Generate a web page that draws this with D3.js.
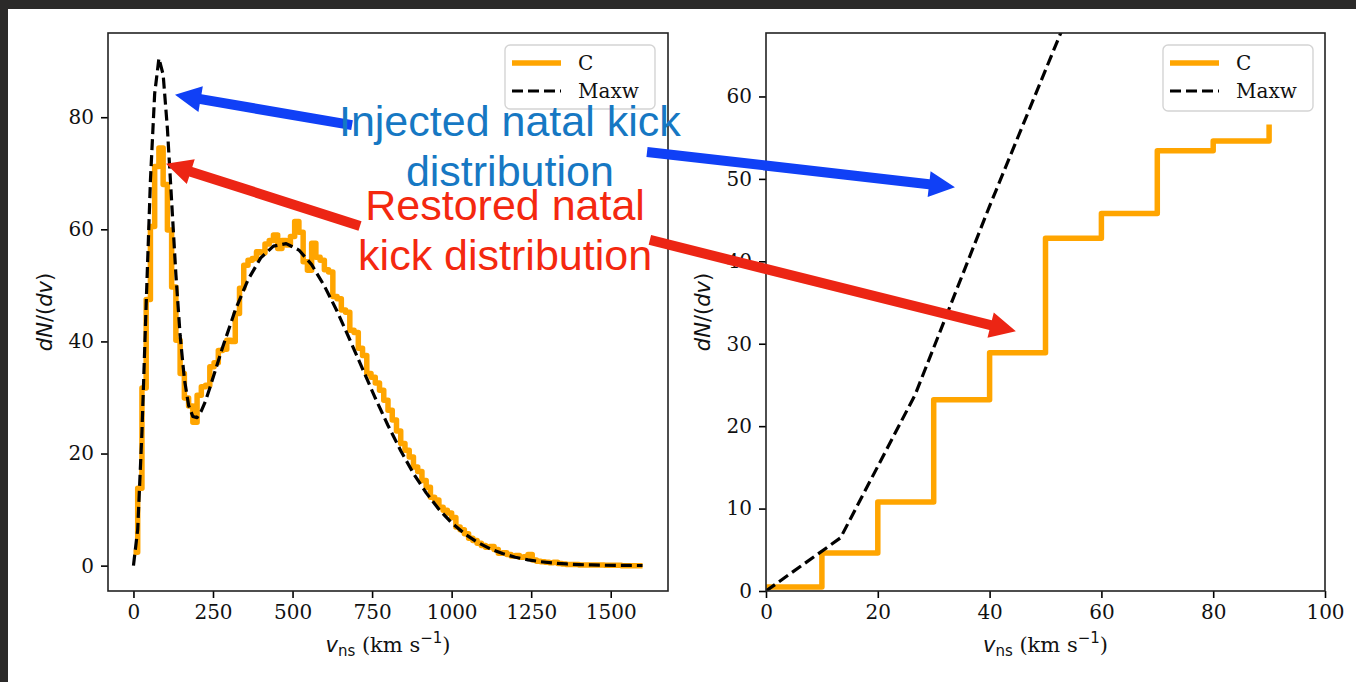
<!DOCTYPE html>
<html>
<head>
<meta charset="utf-8">
<script src="https://cdn.jsdelivr.net/npm/d3@7"></script>
<style>
  html, body { margin: 0; padding: 0; background: #fff; }
  svg { display: block; }
</style>
</head>
<body>
<svg id="fig" width="1356" height="682"></svg>
<script>
// ---------------- data ----------------
// Maxwellian model curve (speed in km/s, dN/dv)
const maxwSpeed = [0, 13.33, 26.67, 40, 53.33, 66.67, 80, 93.33, 106.67, 120, 133.33, 146.67,
  160, 173.33, 186.67, 200, 213.33, 226.67, 240, 280, 320, 360, 400, 440, 480, 520, 560,
  600, 640, 680, 720, 760, 800, 840, 880, 920, 960, 1000, 1040, 1080, 1120, 1160, 1200,
  1240, 1280, 1320, 1360, 1400, 1440, 1480, 1520, 1560, 1600];
const maxwValue = [0, 6.45, 23.8, 46.7, 68.7, 84.2, 90.5, 87.6, 78.0, 65.0, 52.0, 41.1,
  33.3, 28.6, 26.6, 26.4, 27.6, 29.4, 31.7, 38.9, 45.6, 51.0, 54.9, 57.0, 57.45, 56.3, 53.7,
  49.9, 45.4, 40.3, 35.1, 29.9, 25.0, 20.5, 16.45, 12.98, 10.05, 7.65, 5.72, 4.20, 3.03, 2.15, 1.50,
  1.03, 0.70, 0.46, 0.30, 0.19, 0.12, 0.07, 0.04, 0.03, 0.02];

// Restored distribution "C": histogram bin edges and counts (full range)
const binEdges = [0, 13.33, 26.67, 40, 53.33, 66.67, 80, 93.33, 106.67, 120, 133.33, 146.67,
  160, 173.33, 186.67, 200, 213.33, 226.67, 240, 253.33, 266.67, 280, 293.33, 306.67, 320,
  333.33, 346.67, 360, 373.33, 386.67, 400, 413.33, 426.67, 440, 453.33, 466.67, 480, 493.33,
  506.67, 520, 533.33, 546.67, 560, 573.33, 586.67, 600, 613.33, 626.67, 640, 653.33, 666.67,
  680, 693.33, 706.67, 720, 733.33, 746.67, 760, 773.33, 786.67, 800, 813.33, 826.67, 840,
  853.33, 866.67, 880, 893.33, 906.67, 920, 933.33, 946.67, 960, 973.33, 986.67, 1000,
  1013.33, 1026.67, 1040, 1053.33, 1066.67, 1080, 1093.33, 1106.67, 1120, 1133.33, 1146.67,
  1160, 1173.33, 1186.67, 1200, 1213.33, 1226.67, 1240, 1253.33, 1266.67, 1280, 1293.33,
  1306.67, 1320, 1333.33, 1346.67, 1360, 1373.33, 1386.67, 1400, 1413.33, 1426.67, 1440,
  1453.33, 1466.67, 1480, 1493.33, 1506.67, 1520, 1533.33, 1546.67, 1560, 1573.33, 1586.67, 1600];
const binCounts = [2.4, 13.8, 31.7, 47.5, 60.5, 71.2, 74.5, 68.0, 59.9, 49.7,
  40.2, 34.3, 29.9, 28.5, 25.6, 30.4, 31.9, 32.2, 35.5, 36.2,
  38.4, 38.6, 40.2, 40.0, 45.0, 49.5, 53.6, 54.5, 54.8, 56.0,
  55.8, 57.4, 58.0, 59.0, 56.6, 58.0, 57.2, 58.7, 61.4, 59.5,
  54.2, 52.7, 57.5, 55.0, 54.5, 52.8, 52.4, 48.0, 47.6, 45.6,
  45.2, 42.0, 41.6, 38.8, 37.5, 34.3, 33.6, 32.6, 31.3, 29.5,
  27.7, 26.0, 24.0, 21.8, 20.6, 19.4, 17.6, 16.8, 15.2, 14.0,
  12.2, 11.7, 10.4, 9.9, 9.4, 8.6, 6.9, 6.4, 5.7, 4.9,
  4.5, 4.0, 3.6, 3.3, 3.4, 2.9, 2.2, 2.3, 2.0, 1.7,
  1.8, 1.5, 1.6, 2.0, 1.0, 0.8, 0.7, 0.6, 0.5, 0.6,
  0.4, 0.3, 0.2, 0.2, 0.2, 0.1, 0.1, 0.1, 0.1, 0.1,
  0.1, 0.05, 0.05, 0.05, 0.05, 0, 0, 0, 0, 0,
  0];

// Low-speed detail of "C"
const lowEdges = [0, 10, 20, 30, 40, 50, 60, 70, 80, 90];
const lowCounts = [0.5, 4.6, 10.8, 23.2, 28.9, 42.8, 45.8, 53.4, 54.6, 56.6];

// Axis ticks
const leftXTicks = [0, 250, 500, 750, 1000, 1250, 1500];
const leftYTicks = [0, 20, 40, 60, 80];
const rightXTicks = [0, 20, 40, 60, 80, 100];
const rightYTicks = [0, 10, 20, 30, 40, 50, 60];

const legendLabels = ["C", "Maxw"];

// ---------------- setup ----------------
const W = 1356, H = 682;
const ORANGE = "#ffa500";
const HIST_W = 5.5, MAXW_W = 3.2, MAXW_DASH = "11,5";
const svg = d3.select("#fig");

// window frame
svg.append("rect").attr("width", W).attr("height", H).attr("fill", "#2b2a29");
svg.append("rect").attr("x", 8).attr("y", 9).attr("width", W - 8).attr("height", H - 9).attr("fill", "#fff");

const panels = [
  {
    id: "left",
    x: d3.scaleLinear().domain([-80, 1680]).range([108, 668]),
    y: d3.scaleLinear().domain([-4.525, 95.025]).range([591, 33]),
    xticks: leftXTicks, yticks: leftYTicks,
    hist: binEdges.map((e, i) => [e, binCounts[i]]),
    legend: { x: 505, y: 45, w: 150, h: 64 }
  },
  {
    id: "right",
    x: d3.scaleLinear().domain([0, 100]).range([766, 1325]),
    y: d3.scaleLinear().domain([0, 67.7]).range([591, 33]),
    xticks: rightXTicks, yticks: rightYTicks,
    hist: lowEdges.map((e, i) => [e, lowCounts[i]]),
    legend: { x: 1163, y: 45, w: 150, h: 66 }
  }
];

const maxwData = maxwSpeed.map((s, i) => [s, maxwValue[i]]);

panels.forEach(p => {
  const [x0, x1] = p.x.range();
  const [y1, y0] = p.y.range();
  const g = svg.append("g");

  // clip region
  svg.append("clipPath").attr("id", "clip-" + p.id)
    .append("rect").attr("x", x0).attr("y", y0).attr("width", x1 - x0).attr("height", y1 - y0);

  const plot = g.append("g").attr("clip-path", `url(#clip-${p.id})`);

  // histogram step line
  plot.append("path")
    .datum(p.hist)
    .attr("d", d3.line().x(d => p.x(d[0])).y(d => p.y(d[1])).curve(d3.curveStepAfter))
    .attr("fill", "none").attr("stroke", ORANGE).attr("stroke-width", HIST_W)
    .attr("stroke-linejoin", "round");

  // Maxwellian dashed line
  plot.append("path")
    .datum(maxwData)
    .attr("d", d3.line().x(d => p.x(d[0])).y(d => p.y(d[1])))
    .attr("fill", "none").attr("stroke", "#000").attr("stroke-width", MAXW_W)
    .attr("stroke-dasharray", MAXW_DASH).attr("stroke-linejoin", "round");

  // axes
  const xa = g.append("g").attr("transform", `translate(0,${y1})`)
    .call(d3.axisBottom(p.x).tickValues(p.xticks).tickFormat(d3.format("d")).tickSize(7).tickPadding(7));
  const ya = g.append("g").attr("transform", `translate(${x0},0)`)
    .call(d3.axisLeft(p.y).tickValues(p.yticks).tickFormat(d3.format("d")).tickSize(7).tickPadding(7));
  [xa, ya].forEach(a => {
    a.select(".domain").remove();
    a.selectAll(".tick line").attr("stroke", "#000").attr("stroke-width", 1.6);
    a.selectAll(".tick text").attr("fill", "#111")
      .style("font-family", "'DejaVu Serif'").style("font-size", "20px");
  });

  // frame
  g.append("rect").attr("x", x0).attr("y", y0).attr("width", x1 - x0).attr("height", y1 - y0)
    .attr("fill", "none").attr("stroke", "#222").attr("stroke-width", 1.6);

  // x label: v_ns (km s^-1)
  const xl = g.append("text").attr("x", (x0 + x1) / 2).attr("y", 652)
    .attr("text-anchor", "middle").attr("fill", "#111").style("font-size", "21px");
  xl.append("tspan").style("font-family", "'DejaVu Sans'").style("font-style", "italic").text("v");
  xl.append("tspan").style("font-family", "'DejaVu Sans'").style("font-size", "15px").attr("dy", 4).text("ns");
  xl.append("tspan").style("font-family", "'DejaVu Serif'").attr("dy", -4).text("\u00a0(km s");
  xl.append("tspan").style("font-family", "'DejaVu Sans'").style("font-size", "15px").attr("dy", -9).text("\u22121");
  xl.append("tspan").style("font-family", "'DejaVu Serif'").attr("dy", 9).text(")");

  // y label: dN/(dv)
  const cx = x0 - 62, cy = (y0 + y1) / 2;
  const yl = g.append("text").attr("transform", `translate(${cx + 6},${cy}) rotate(-90)`)
    .attr("text-anchor", "middle").attr("fill", "#111")
    .style("font-family", "'DejaVu Sans'").style("font-size", "21px");
  yl.append("tspan").style("font-style", "italic").text("dN");
  yl.append("tspan").text("/(");
  yl.append("tspan").style("font-style", "italic").text("dv");
  yl.append("tspan").text(")");

  // legend
  const L = p.legend;
  const lg = g.append("g");
  lg.append("rect").attr("x", L.x).attr("y", L.y).attr("width", L.w).attr("height", L.h)
    .attr("rx", 5).attr("fill", "#fff").attr("fill-opacity", 0.85)
    .attr("stroke", "#d4d4d4").attr("stroke-width", 1.4);
  const rows = [L.y + 18, L.y + 46];
  lg.append("line").attr("x1", L.x + 7).attr("x2", L.x + 56).attr("y1", rows[0]).attr("y2", rows[0])
    .attr("stroke", ORANGE).attr("stroke-width", HIST_W);
  lg.append("line").attr("x1", L.x + 7).attr("x2", L.x + 56).attr("y1", rows[1]).attr("y2", rows[1])
    .attr("stroke", "#000").attr("stroke-width", MAXW_W).attr("stroke-dasharray", MAXW_DASH);
  legendLabels.forEach((t, i) => {
    lg.append("text").attr("x", L.x + 73).attr("y", rows[i] + 7).attr("fill", "#111")
      .style("font-family", "'DejaVu Serif'").style("font-size", "20px").text(t);
  });
});

// ---------------- annotations ----------------
const P = { left: panels[0], right: panels[1] };
const px = (pt) => [P[pt.panel].x(pt.v), P[pt.panel].y(pt.n)];

const BLUE_ARROW = "#1040f6", RED_ARROW = "#ec2514";
const BLUE_TEXT = "#1678c3", RED_TEXT = "#f4280f";

const arrows = [
  { from: { panel: "left", v: 687, n: 78.6 }, to: { panel: "left", v: 130.6, n: 84.0 }, color: BLUE_ARROW },
  { from: { panel: "left", v: 1614, n: 73.8 }, to: { panel: "right", v: 33.8, n: 49.0 }, color: BLUE_ARROW },
  { from: { panel: "left", v: 712, n: 60.6 }, to: { panel: "left", v: 102.3, n: 71.7 }, color: RED_ARROW },
  { from: { panel: "left", v: 1623, n: 58.1 }, to: { panel: "right", v: 44.7, n: 31.5 }, color: RED_ARROW }
];

function arrowPolygon(a, b, shaft, headLen, headW) {
  const dx = b[0] - a[0], dy = b[1] - a[1], len = Math.hypot(dx, dy);
  const ux = dx / len, uy = dy / len, nx = -uy, ny = ux;
  const bx = b[0] - ux * headLen, by = b[1] - uy * headLen;
  const s = shaft / 2, h = headW / 2;
  return [
    [a[0] + nx * s, a[1] + ny * s], [bx + nx * s, by + ny * s], [bx + nx * h, by + ny * h],
    b, [bx - nx * h, by - ny * h], [bx - nx * s, by - ny * s], [a[0] - nx * s, a[1] - ny * s]
  ];
}

const ann = svg.append("g");
arrows.forEach(ar => {
  ann.append("polygon")
    .attr("points", arrowPolygon(px(ar.from), px(ar.to), 10, 26, 26).map(p => p.join(",")).join(" "))
    .attr("fill", ar.color);
});

const notes = [
  { lines: ["Injected natal kick", "distribution"], at: { panel: "left", v: 1183, n: 76.6 }, color: BLUE_TEXT },
  { lines: ["Restored natal", "kick distribution"], at: { panel: "left", v: 1168, n: 61.7 }, color: RED_TEXT }
];
notes.forEach(nt => {
  const [tx, ty] = px(nt.at);
  nt.lines.forEach((ln, i) => {
    ann.append("text").attr("x", tx).attr("y", ty + i * 50)
      .attr("text-anchor", "middle").attr("fill", nt.color)
      .style("font-family", "'Liberation Sans', Arial, sans-serif").style("font-size", "43px")
      .text(ln);
  });
});
</script>
</body>
</html>
